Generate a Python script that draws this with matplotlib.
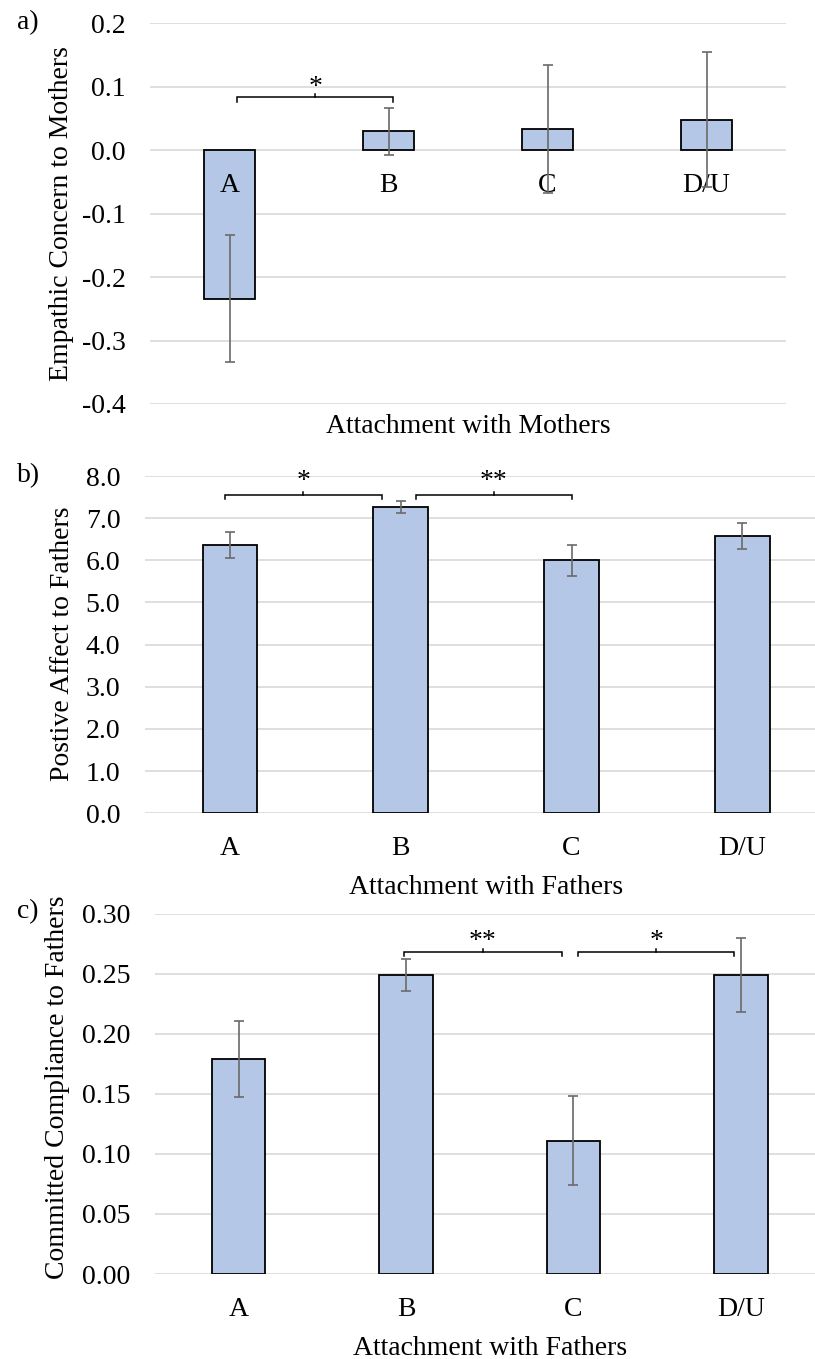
import matplotlib
matplotlib.use('Agg')
import matplotlib.pyplot as plt
from matplotlib.ticker import FixedLocator, FuncFormatter

plt.rcParams['font.family'] = ['Liberation Serif', 'DejaVu Serif']

# ---------------- data ----------------
categories = ['A', 'B', 'C', 'D/U']

mother_empathy = [-0.234, 0.030, 0.033, 0.048]
mother_empathy_err = [0.100, 0.037, 0.101, 0.106]

father_affect = [6.36, 7.26, 6.00, 6.57]
father_affect_err = [0.31, 0.14, 0.37, 0.31]

father_compliance = [0.179, 0.249, 0.111, 0.249]
father_compliance_err = [0.032, 0.0135, 0.037, 0.031]

a_yticks = [-0.4, -0.3, -0.2, -0.1, 0.0, 0.1, 0.2]
b_yticks = [0.0, 1.0, 2.0, 3.0, 4.0, 5.0, 6.0, 7.0, 8.0]
c_yticks = [0.00, 0.05, 0.10, 0.15, 0.20, 0.25, 0.30]

# significance brackets: (start category pos, end category pos, height, label)
a_brackets = [(0.05, 1.03, 0.0835, '*')]
b_brackets = [(-0.03, 0.89, 7.56, '*'), (1.09, 2.00, 7.56, '**')]
c_brackets = [(0.99, 1.93, 0.268, '**'), (2.03, 2.96, 0.268, '*')]

# ---------------- style ----------------
W, H = 815, 1359
BAR_COLOR = '#b4c7e7'
GRID_COLOR = '#d9d9d9'
ERR_COLOR = '#6a6a6a'
FS = 20

fig = plt.figure(figsize=(W / 100, H / 100), dpi=100)


def px_axes(x0, x1, ytop, ybot):
    return fig.add_axes([x0 / W, 1 - ybot / H, (x1 - x0) / W, (ybot - ytop) / H])


def draw_panel(ax, values, errs, yticks, fmt, brackets, star_off):
    x = list(range(len(categories)))
    ax.bar(x, values, width=0.32, color=BAR_COLOR, edgecolor='black',
           linewidth=1.3, zorder=3)
    ax.errorbar(x, values, yerr=errs, fmt='none', ecolor=ERR_COLOR,
                elinewidth=1.2, capsize=3.8, capthick=1.2, zorder=5)
    ax.set_xlim(-0.5, 3.5)
    ax.set_ylim(yticks[0], yticks[-1])
    ax.yaxis.set_major_locator(FixedLocator(yticks))
    ax.yaxis.set_major_formatter(FuncFormatter(lambda v, p: fmt % v))
    ax.set_xticks([])
    ax.tick_params(axis='y', length=0, pad=17.5, labelsize=FS)
    ax.grid(axis='y', color=GRID_COLOR, linewidth=1.2, zorder=0)
    ax.set_axisbelow(True)
    for s in ax.spines.values():
        s.set_visible(False)
    ax.patch.set_alpha(0)
    # category labels at the zero line
    for xi, lab in zip(x, categories):
        ax.annotate(lab, xy=(xi, 0), xytext=(0, -30), textcoords='offset points',
                    ha='center', va='baseline', fontsize=FS, zorder=4,
                    annotation_clip=False)
    # brackets
    yr = yticks[-1] - yticks[0]
    down = 0.012 * yr
    up = 0.008 * yr
    for x0, x1, yb, lab in brackets:
        ax.plot([x0, x0, x1, x1], [yb - down, yb, yb, yb - down],
                color='black', lw=1.1, zorder=6, solid_joinstyle='miter',
                clip_on=False)
        xm = (x0 + x1) / 2
        ax.plot([xm, xm], [yb, yb + up], color='black', lw=1.1, zorder=6,
                clip_on=False)
        ax.annotate(lab, xy=(xm, yb), xytext=(0, star_off),
                    textcoords='offset points', ha='center', va='baseline',
                    fontsize=FS, annotation_clip=False)


# panel a
ax_a = px_axes(150, 786, 23.3, 404)
draw_panel(ax_a, mother_empathy, mother_empathy_err, a_yticks, '%.1f',
           a_brackets, 2.6)
# panel b
ax_b = px_axes(144.6, 827.7, 476, 813.3)
draw_panel(ax_b, father_affect, father_affect_err, b_yticks, '%.1f',
           b_brackets, 4.8)
# panel c
ax_c = px_axes(155, 824.4, 913.7, 1274)
draw_panel(ax_c, father_compliance, father_compliance_err, c_yticks, '%.2f',
           c_brackets, 3.1)

# axis titles
fig.text(468 / W, 1 - 433 / H, 'Attachment with Mothers', ha='center',
         va='baseline', fontsize=FS)
fig.text(486 / W, 1 - 894 / H, 'Attachment with Fathers', ha='center',
         va='baseline', fontsize=FS)
fig.text(489.7 / W, 1 - 1355 / H, 'Attachment with Fathers', ha='center',
         va='baseline', fontsize=FS)

fig.text(62 / W, 1 - 213.5 / H, 'Empathic Concern to Mothers', rotation=90,
         ha='center', va='center', fontsize=FS)
fig.text(63 / W, 1 - 644 / H, 'Postive Affect to Fathers', rotation=90,
         ha='center', va='center', fontsize=FS)
fig.text(58 / W, 1 - 1087 / H, 'Committed Compliance to Fathers', rotation=90,
         ha='center', va='center', fontsize=FS)

# panel letters
fig.text(17 / W, 1 - 29 / H, 'a)', ha='left', va='baseline', fontsize=FS)
fig.text(17 / W, 1 - 482 / H, 'b)', ha='left', va='baseline', fontsize=FS)
fig.text(17 / W, 1 - 918 / H, 'c)', ha='left', va='baseline', fontsize=FS)

fig.savefig('out.png', dpi=100)
